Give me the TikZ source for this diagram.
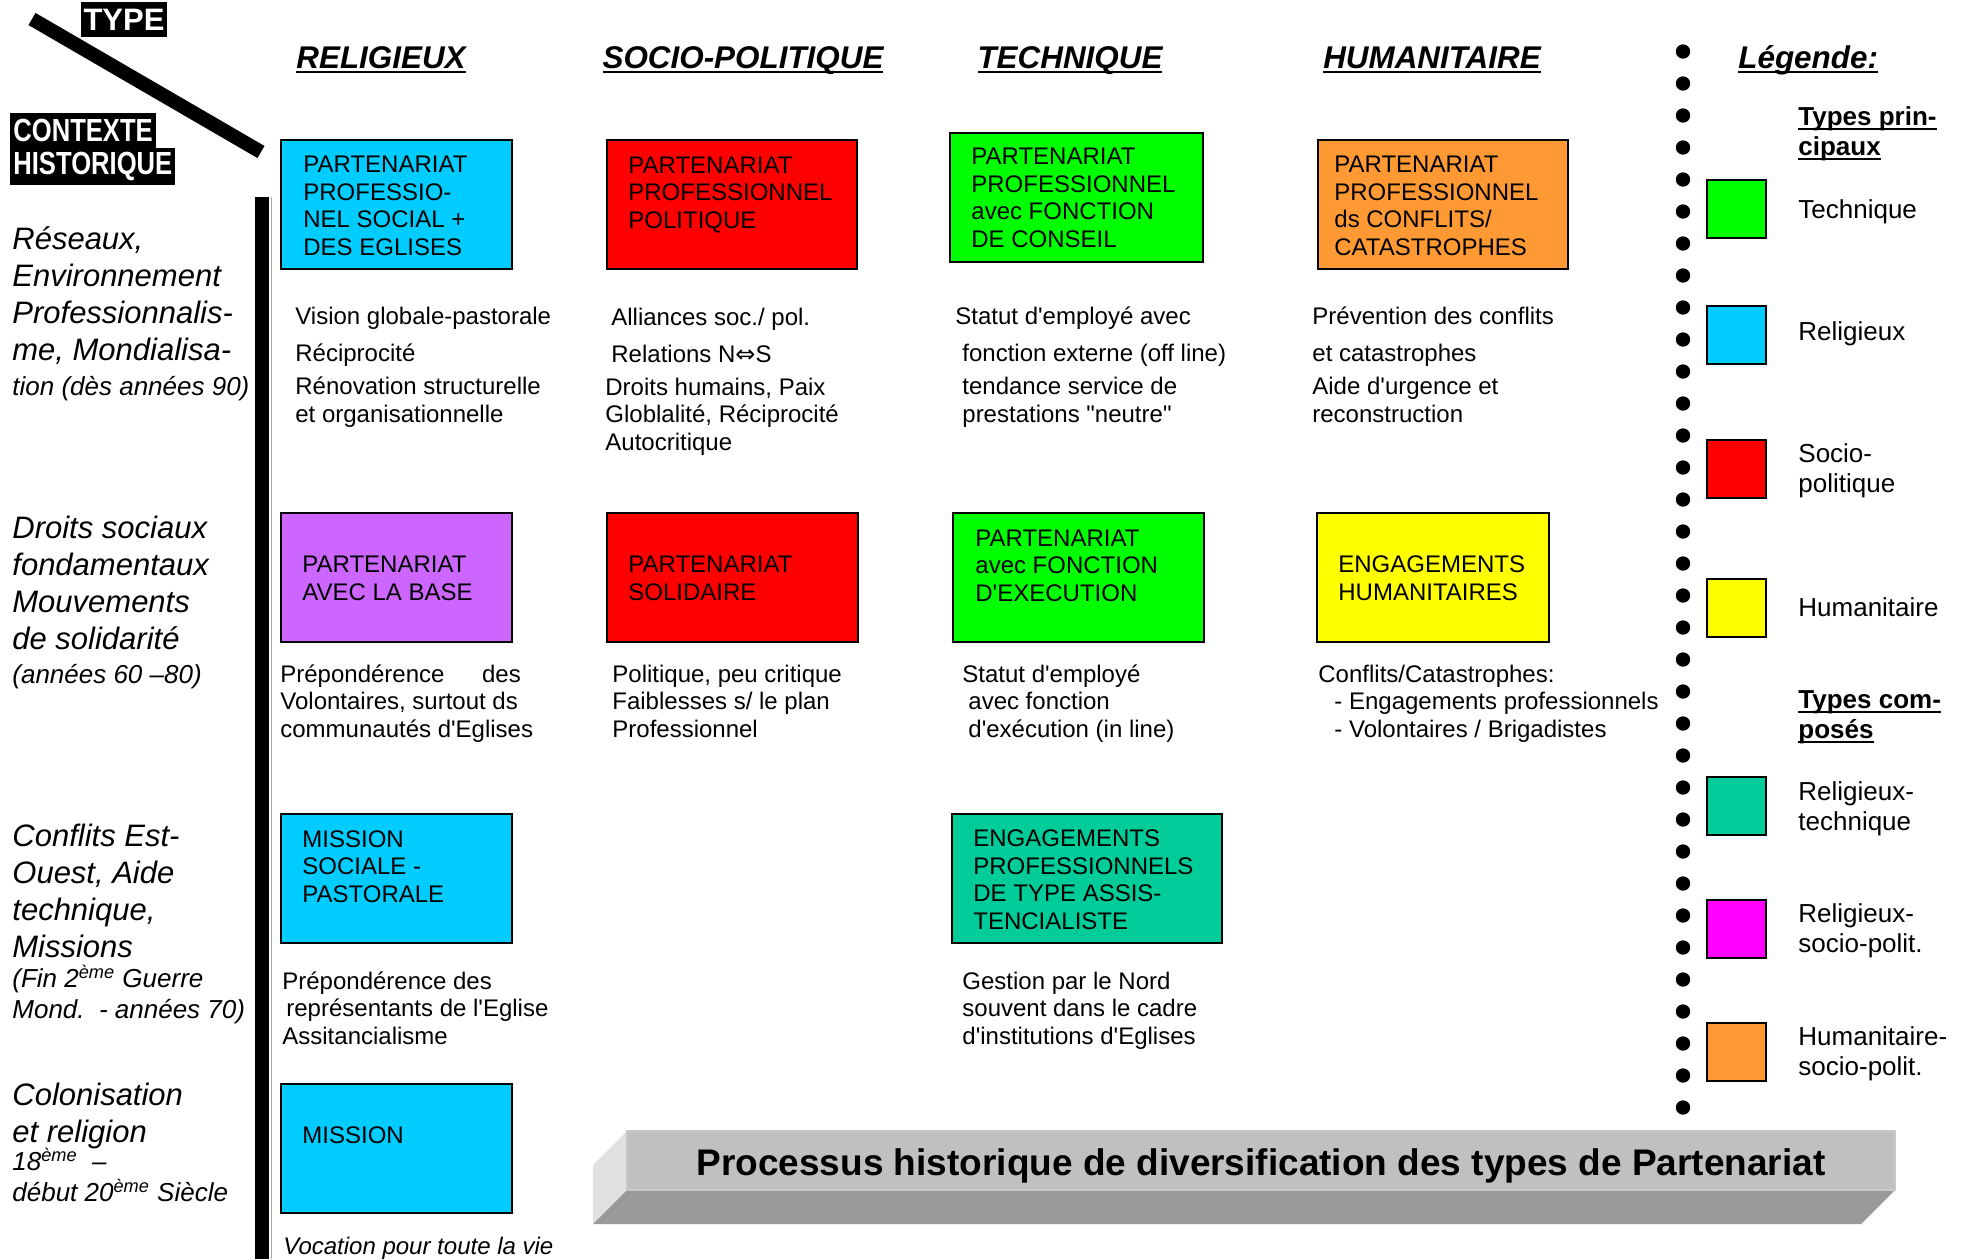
\documentclass[tikz,border=0pt]{standalone}
\usepackage{fontspec}
\setmainfont{Liberation Sans}
\newfontfamily\narrowsf[FakeStretch=0.8]{Liberation Sans}
\newfontfamily\symbfont{DejaVu Sans}
\usepackage{xcolor}
\usepackage{tikz}
\definecolor{religieux}{RGB}{0, 204, 255}
\definecolor{sociopol}{RGB}{255, 0, 0}
\definecolor{technique}{RGB}{0, 255, 0}
\definecolor{humanit}{RGB}{255, 255, 0}
\definecolor{religtech}{RGB}{0, 204, 153}
\definecolor{religsoc}{RGB}{255, 0, 255}
\definecolor{humsoc}{RGB}{255, 153, 51}
\definecolor{baseviolet}{RGB}{204, 102, 255}
\definecolor{bannerfront}{RGB}{192, 192, 192}
\definecolor{bannerside}{RGB}{224, 224, 224}
\definecolor{bannerbottom}{RGB}{153, 153, 153}

% thick underline close to the baseline
\newcommand{\ulbar}[1]{\setbox0\hbox{#1}\rlap{\rule[-2.4pt]{\wd0}{0.9pt}}\box0}
% straight apostrophe
\newcommand{\apos}{\textquotesingle}

\tikzset{
  pbox/.style={draw=black, line width=1pt},
  boxtext/.style={anchor=base west, align=left, inner sep=0pt, font=\fontsize{12}{13.7}\selectfont},
  desc/.style={anchor=base west, align=left, inner sep=0pt, font=\fontsize{12}{13.75}\selectfont},
  ctx/.style={anchor=base west, align=left, inner sep=0pt, font=\itshape\fontsize{15.5}{18.4}\selectfont},
  ctxsmall/.style={anchor=base west, align=left, inner sep=0pt, font=\itshape\fontsize{13}{15.5}\selectfont},
  heading/.style={anchor=base, inner sep=0pt, font=\bfseries\itshape\fontsize{15.7}{18}\selectfont},
  legsq/.style={draw=black, line width=1pt},
  legtxt/.style={anchor=base west, align=left, inner sep=0pt, font=\fontsize{13}{14.8}\selectfont},
  blacklabel/.style={fill=black, text=white, inner ysep=0pt, inner xsep=1.5pt}
}

\begin{document}
\begin{tikzpicture}[x=0.5pt, y=-0.5pt]
    \useasboundingbox (0,0) rectangle (1966,1259);

    % Corner: type / context
    \draw[line width=7pt] (32,19) -- (261,152);
    \node[blacklabel, minimum height=17.5pt, font=\bfseries\fontsize{15.5}{17}\selectfont] (type) at (124,19.5) {TYPE};
    \node[blacklabel, anchor=north west, minimum height=17.5pt, font=\narrowsf\bfseries\fontsize{16}{18}\selectfont] (ctxtitle) at (10,113) {CONTEXTE};
    \node[blacklabel, anchor=north west, minimum height=18.5pt, font=\narrowsf\bfseries\fontsize{16}{18}\selectfont] (histtitle) at (10,148) {HISTORIQUE};

    % Time axis
    \fill[black] (255,197) rectangle (269,1259);
    \draw[black!35, line width=0.5pt] (271,197) -- (271,1259);

    % Column headings
    \node[heading] (hrel) at (381,68) {\ulbar{RELIGIEUX}};
    \node[heading] (hsoc) at (743,68) {\ulbar{SOCIO-POLITIQUE}};
    \node[heading] (htec) at (1070,68) {\ulbar{TECHNIQUE}};
    \node[heading] (hhum) at (1432,68) {\ulbar{HUMANITAIRE}};

    % Historical contexts (anchored at last baseline)
    \node[ctx] (ctxa) at (12,360) {Réseaux,\\Environnement\\Professionnalis-\\me, Mondialisa-};
    \node[ctxsmall] (ctxad) at (12,395) {tion (dès années 90)};
    \node[ctx] (ctxb) at (12,649) {Droits sociaux\\fondamentaux\\Mouvements\\de solidarité};
    \node[ctxsmall] (ctxbd) at (12,683) {(années 60 –80)};
    \node[ctx] (ctxc) at (12,957) {Conflits Est-\\Ouest, Aide\\technique,\\Missions};
    \node[ctxsmall] (ctxcd) at (12,1018) {(Fin 2\textsuperscript{ème} Guerre\\Mond.\ \ - années 70)};
    \node[ctx] (ctxd) at (12,1142) {Colonisation\\et religion};
    \node[ctxsmall] (ctxdd) at (12,1201) {18\textsuperscript{ème}\ \ –\\début 20\textsuperscript{ème} Siècle};

    % Row 1 (since the 90s)
    \draw[pbox, fill=religieux] (281,140) rectangle (512,269);
    \node[boxtext] (r1) at (303,255) {PARTENARIAT\\PROFESSIO-\\NEL SOCIAL +\\DES EGLISES};
    \draw[pbox, fill=sociopol] (607,140) rectangle (857,269);
    \node[boxtext] (s1) at (628,228) {PARTENARIAT\\PROFESSIONNEL\\POLITIQUE};
    \draw[pbox, fill=technique] (950,133) rectangle (1203,262);
    \node[boxtext] (t1) at (971,247) {PARTENARIAT\\PROFESSIONNEL\\avec FONCTION\\DE CONSEIL};
    \draw[pbox, fill=humsoc] (1318,140) rectangle (1568,269);
    \node[boxtext] (h1) at (1334,255) {PARTENARIAT\\PROFESSIONNEL\\ds CONFLITS/\\CATASTROPHES};

    \node[desc] (r1d) at (295,422) {Vision globale-pastorale\\[4.75pt]Réciprocité\\[2.75pt]Rénovation structurelle\\et organisationnelle};
    \node[desc] (s1d) at (605,450) {\hspace*{3pt}Alliances soc./ pol.\\[4.75pt]\hspace*{3pt}Relations N{\symbfont ⇔}S\\[2.75pt]Droits humains, Paix\\Globlalité, Réciprocité\\Autocritique};
    \node[desc] (t1d) at (955,422) {Statut d\apos employé avec\\[4.75pt]\hspace*{3.5pt}fonction externe (off line)\\[2.75pt]\hspace*{3.5pt}tendance service de\\\hspace*{3.5pt}prestations \textquotedbl neutre\textquotedbl};
    \node[desc] (h1d) at (1312,422) {Prévention des conflits\\[4.75pt]et catastrophes\\[2.75pt]Aide d\apos urgence et\\reconstruction};

    % Row 2 (60s - 80s)
    \draw[pbox, fill=baseviolet] (281,513) rectangle (512,642);
    \node[boxtext] (r2) at (302,600) {PARTENARIAT\\AVEC LA BASE};
    \draw[pbox, fill=sociopol] (607,513) rectangle (858,642);
    \node[boxtext] (s2) at (628,600) {PARTENARIAT\\SOLIDAIRE};
    \draw[pbox, fill=technique] (953,513) rectangle (1204,642);
    \node[boxtext] (t2) at (975,601) {PARTENARIAT\\avec FONCTION\\D\apos EXECUTION};
    \draw[pbox, fill=humanit] (1317,513) rectangle (1549,642);
    \node[boxtext] (h2) at (1338,600) {ENGAGEMENTS\\HUMANITAIRES};

    \node[desc] (r2d) at (280,737) {Prépondérence\hspace{15.5pt} des\\Volontaires, surtout ds\\communautés d\apos Eglises};
    \node[desc] (s2d) at (612,737) {Politique, peu critique\\Faiblesses s/ le plan\\Professionnel};
    \node[desc] (t2d) at (962,737) {Statut d\apos employé\\\hspace*{3pt}avec fonction\\\hspace*{3pt}d\apos exécution (in line)};
    \node[desc] (h2d) at (1318,737) {Conflits/Catastrophes:\\\hspace*{8pt}- Engagements professionnels\\\hspace*{8pt}- Volontaires / Brigadistes};

    % Row 3 (after WW2 - 70s)
    \draw[pbox, fill=religieux] (281,814) rectangle (512,943);
    \node[boxtext] (r3) at (302,902) {MISSION\\SOCIALE -\\PASTORALE};
    \draw[pbox, fill=religtech] (952,814) rectangle (1222,943);
    \node[boxtext] (t3) at (973,929) {ENGAGEMENTS\\PROFESSIONNELS\\DE TYPE ASSIS-\\TENCIALISTE};

    \node[desc] (r3d) at (282,1044) {Prépondérence des\\\hspace*{2pt}représentants de l\apos Eglise\\Assitancialisme};
    \node[desc] (t3d) at (962,1044) {Gestion par le Nord\\souvent dans le cadre\\d\apos institutions d\apos Eglises};

    % Row 4 (colonisation)
    \draw[pbox, fill=religieux] (281,1084) rectangle (512,1213);
    \node[boxtext] (r4) at (302,1143) {MISSION};
    \node[desc, font=\itshape\fontsize{12}{13.75}\selectfont] (r4d) at (283,1254) {Vocation pour toute la vie};

    % Banner
    \fill[bannerside] (627,1131) -- (627,1190) -- (593,1224) -- (593,1165) -- cycle;
    \fill[bannerbottom] (627,1190) -- (1895,1190) -- (1861,1224) -- (593,1224) -- cycle;
    \fill[bannerfront, draw=black!22, line width=0.6pt] (627,1131) rectangle (1895,1190);
    \node[anchor=base, inner sep=0pt, font=\bfseries\fontsize{18.5}{20}\selectfont] (banner) at (1261,1175) {Processus historique de diversification des types de Partenariat};

    % Legend separator
    \foreach \i in {0,...,33}
        \fill (1683,{51.5+32*\i}) circle (3.6pt);

    % Legend
    \node[heading, anchor=base west] (leg) at (1738,68) {\ulbar{Légende:}};
    \node[legtxt, font=\bfseries\fontsize{13}{15}\selectfont] (legmain) at (1798,155) {\ulbar{Types prin-}\\\ulbar{cipaux}};
    \draw[legsq, fill=technique] (1707,180) rectangle (1766,238);
    \node[legtxt] (legtec) at (1798,218) {Technique};
    \draw[legsq, fill=religieux] (1707,306) rectangle (1766,364);
    \node[legtxt] (legrel) at (1798,340) {Religieux};
    \draw[legsq, fill=sociopol] (1707,440) rectangle (1766,498);
    \node[legtxt] (legsoc) at (1798,492) {Socio-\\politique};
    \draw[legsq, fill=humanit] (1707,579) rectangle (1766,637);
    \node[legtxt] (leghum) at (1798,616) {Humanitaire};
    \node[legtxt, font=\bfseries\fontsize{13}{15}\selectfont] (legcomp) at (1798,738) {\ulbar{Types com-}\\\ulbar{posés}};
    \draw[legsq, fill=religtech] (1707,777) rectangle (1766,835);
    \node[legtxt] (legrt) at (1798,830) {Religieux-\\technique};
    \draw[legsq, fill=religsoc] (1707,900) rectangle (1766,958);
    \node[legtxt] (legrs) at (1798,952) {Religieux-\\socio-polit.};
    \draw[legsq, fill=humsoc] (1707,1023) rectangle (1766,1081);
    \node[legtxt] (leghs) at (1798,1075) {Humanitaire-\\socio-polit.};
\end{tikzpicture}
\end{document}
